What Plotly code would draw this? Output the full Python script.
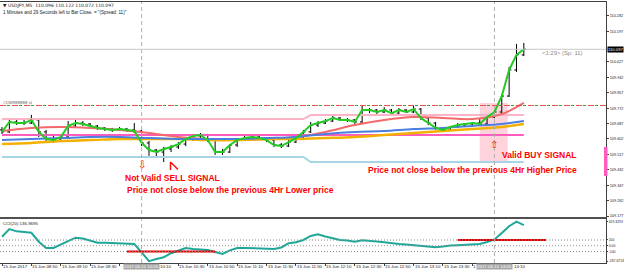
import plotly.graph_objects as go

W, H = 625, 273
ML, MR, MT, MB = 0, 19, 2, 10
PW = W - ML - MR
PH = H - MT - MB
FONT = "Liberation Sans"

def px_x(x):
    return (x - ML) / PW

def px_y(y):
    return (H - MB - y) / PH

# ---------------- data ----------------
BARS = list(range(72))
OPEN = [109.652, 109.641, 109.696, 109.690, 109.690, 109.707, 109.641, 109.602, 109.596, 109.613,
        109.674, 109.690, 109.685, 109.674, 109.663, 109.657, 109.652, 109.657, 109.652, 109.646,
        109.580, 109.541, 109.530, 109.547, 109.558, 109.574, 109.602, 109.619, 109.624, 109.596,
        109.530, 109.530, 109.569, 109.596, 109.607, 109.613, 109.607, 109.596, 109.569, 109.563,
        109.585, 109.607, 109.641, 109.679, 109.690, 109.701, 109.718, 109.707, 109.707, 109.696,
        109.762, 109.762, 109.751, 109.762, 109.745, 109.762, 109.751, 109.767, 109.718, 109.690,
        109.663, 109.652, 109.668, 109.679, 109.685, 109.690, 109.685, 109.723, 109.751, 109.839,
        109.983, 110.066]
HIGH = [109.668, 109.712, 109.707, 109.712, 109.735, 109.712, 109.652, 109.619, 109.624, 109.701,
        109.712, 109.701, 109.690, 109.679, 109.668, 109.663, 109.668, 109.663, 109.690, 109.652,
        109.591, 109.547, 109.558, 109.569, 109.585, 109.613, 109.630, 109.635, 109.630, 109.602,
        109.547, 109.574, 109.602, 109.619, 109.624, 109.619, 109.613, 109.602, 109.580, 109.596,
        109.613, 109.652, 109.696, 109.701, 109.712, 109.729, 109.723, 109.718, 109.712, 109.784,
        109.773, 109.767, 109.778, 109.767, 109.773, 109.767, 109.784, 109.773, 109.723, 109.696,
        109.668, 109.674, 109.690, 109.690, 109.696, 109.712, 109.740, 109.762, 109.850, 110.000,
        110.127, 110.132]
LOW = [109.630, 109.635, 109.679, 109.679, 109.685, 109.613, 109.591, 109.580, 109.585, 109.607,
       109.668, 109.674, 109.663, 109.652, 109.646, 109.641, 109.646, 109.641, 109.635, 109.563,
       109.509, 109.503, 109.475, 109.530, 109.547, 109.563, 109.591, 109.602, 109.585, 109.514,
       109.514, 109.525, 109.558, 109.591, 109.602, 109.596, 109.585, 109.558, 109.552, 109.558,
       109.580, 109.602, 109.635, 109.668, 109.685, 109.696, 109.701, 109.696, 109.685, 109.690,
       109.745, 109.740, 109.745, 109.734, 109.740, 109.745, 109.745, 109.707, 109.679, 109.652,
       109.641, 109.646, 109.663, 109.674, 109.679, 109.679, 109.679, 109.718, 109.745, 109.834,
       109.972, 110.060]
CLOSE = [109.641, 109.696, 109.690, 109.690, 109.707, 109.641, 109.602, 109.596, 109.613, 109.674,
         109.690, 109.685, 109.674, 109.663, 109.657, 109.652, 109.657, 109.652, 109.646, 109.580,
         109.541, 109.530, 109.547, 109.558, 109.574, 109.602, 109.619, 109.624, 109.596, 109.530,
         109.530, 109.569, 109.596, 109.607, 109.613, 109.607, 109.596, 109.569, 109.563, 109.585,
         109.607, 109.641, 109.679, 109.690, 109.701, 109.718, 109.707, 109.707, 109.696, 109.762,
         109.762, 109.751, 109.762, 109.745, 109.762, 109.751, 109.767, 109.718, 109.690, 109.663,
         109.652, 109.668, 109.679, 109.685, 109.690, 109.685, 109.723, 109.751, 109.839, 109.983,
         110.066, 110.097]

MA_IDX = [0, 4, 8, 12, 16, 20, 24, 28, 32, 36, 40, 44, 48, 52, 56, 60, 64, 68, 71]
MA_RED = [109.646, 109.663, 109.668, 109.663, 109.652, 109.635, 109.613, 109.602, 109.596, 109.602,
          109.613, 109.641, 109.679, 109.707, 109.723, 109.718, 109.712, 109.740, 109.801]
MA_BLUE = [109.596, 109.602, 109.607, 109.613, 109.613, 109.607, 109.602, 109.602, 109.602, 109.607,
           109.613, 109.630, 109.641, 109.646, 109.657, 109.663, 109.674, 109.685, 109.701]
MA_GOLD = [109.574, 109.580, 109.591, 109.596, 109.602, 109.602, 109.602, 109.596, 109.596, 109.602,
           109.602, 109.607, 109.613, 109.624, 109.635, 109.646, 109.657, 109.668, 109.685]

H4_X = [0, 41, 42, 71]
H4_HIGH = [109.712, 109.712, 109.734, 109.734]
H4_LOW = [109.503, 109.503, 109.475, 109.475]
MAG_X = [0, 71]
MAG_LEVEL = [109.624, 109.624]
ORDER_LEVEL = 109.787
BID = 110.097

BOX_BARS = [65, 68.8]
BOX_PRICES = [109.475, 109.801]
CROSS_BARS = [19, 67]

CCI = [157, 290, 250, 235, 225, 70, -39, -39, 20, 75,
       140, 125, 85, 52, 50, 47, 40, 35, 30, -115,
       -267.67, -230, -200, -130, -90, -40, -57, -65, -74, -110,
       -143, -80, -40, -38, -39, -40, -45, -55, -30, 45,
       60, 100, 170, 200, 160, 125, 100, 90, 70, 95,
       90, 75, 60, 40, 30, 20, 10, -5, -20, -25,
       -15, 5, 10, 15, 15, 30, 65, 110, 220, 340,
       419.33, 360]
CCI_LEVELS = [100, 0, -100]
CCI_SEG1_BARS = [17, 29]
CCI_SEG1_LEVEL = -100
CCI_SEG2_BARS = [62, 74]
CCI_SEG2_LEVEL = 100

PRICE_TICKS = [109.177, 109.262, 109.347, 109.432, 109.517, 109.602, 109.687, 109.772,
               109.857, 109.942, 110.027, 110.197, 110.282]
CCI_TICKS = [419.3293, 100, 0, -100, -267.6713]
CCI_TICK_TEXT = ["419.3293", "100", "0.00", "-100", "-267.6713"]

TIME_BARS = [0, 4, 8, 12, 16, 20, 24, 28, 32, 36, 40, 44, 48, 52, 56, 60, 64, 68]
# labels as they show (the ones under the crosshair date boxes are partly hidden)
TIME_LABELS = ["15 Jun 2017", "15 Jun 08:50", "15 Jun 09:10", "15 Jun 09:30", "",
               "10:10", "15 Jun 10:30", "15 Jun 10:50", "15 Jun 11:10", "15 Jun 11:30",
               "15 Jun 11:50", "15 Jun 12:10", "15 Jun 12:30", "15 Jun 12:50", "15 Jun 13:10",
               "15 Jun 13:30", "1", "14:10"]
TIME_SHIFT = [0, 0, 0, 0, 0, 10, 0, 0, 0, 0, 0, 0, 0, 0, 0, 0, 0, 11]
CROSS_LABELS = ["2017.06.15 10:05", "2017.06.15 14:05"]

X_RANGE = [-0.272, 82.18]
Y_RANGE = [109.1715, 110.358]
CCI_RANGE = [-300, 465]

# ---------------- figure ----------------
fig = go.Figure()

def line(x, y, color, width, xa="x", ya="y", shape="linear", dash=None):
    fig.add_trace(go.Scatter(x=x, y=y, mode="lines", xaxis=xa, yaxis=ya,
                             line=dict(color=color, width=width, shape=shape, dash=dash),
                             showlegend=False, hoverinfo="skip"))

line(H4_X, H4_HIGH, "#ffb3c6", 2)
line(H4_X, H4_LOW, "#a6d5e6", 2)
line(MAG_X, MAG_LEVEL, "#ff5cc0", 2)
line(MA_IDX, MA_RED, "#f26a6a", 2, shape="spline")
line(MA_IDX, MA_GOLD, "#f2b000", 2.5, shape="spline")
line(MA_IDX, MA_BLUE, "#4a7fe0", 2, shape="spline")
line(BARS, CLOSE, "#22cc22", 2)

fig.add_trace(go.Ohlc(x=BARS, open=OPEN, high=HIGH, low=LOW, close=CLOSE,
                      increasing=dict(line=dict(color="black", width=1)),
                      decreasing=dict(line=dict(color="black", width=1)),
                      tickwidth=0.3, showlegend=False, hoverinfo="skip",
                      xaxis="x", yaxis="y"))

line(BARS, CCI, "#1fa899", 2, xa="x2", ya="y2")
line(CCI_SEG1_BARS, [CCI_SEG1_LEVEL] * 2, "#e00000", 2, xa="x2", ya="y2")
line(CCI_SEG2_BARS, [CCI_SEG2_LEVEL] * 2, "#e00000", 2, xa="x2", ya="y2")

shapes = []
shapes.append(dict(type="rect", xref="x", yref="y", x0=BOX_BARS[0], x1=BOX_BARS[1],
                   y0=BOX_PRICES[0], y1=BOX_PRICES[1], fillcolor="#ffd3dc",
                   line=dict(width=0), layer="below"))
for b in CROSS_BARS:
    shapes.append(dict(type="line", xref="x", yref="paper", x0=b, x1=b, y0=0, y1=1,
                       line=dict(color="#b0b0b0", width=1, dash="4px,3px")))
shapes.append(dict(type="line", xref="paper", yref="y", x0=0, x1=1, y0=BID, y1=BID,
                   line=dict(color="#c8c8c8", width=1)))
shapes.append(dict(type="line", xref="paper", yref="y", x0=0, x1=1, y0=ORDER_LEVEL, y1=ORDER_LEVEL,
                   line=dict(color="#e05050", width=1, dash="6px,6px")))
shapes.append(dict(type="line", xref="paper", yref="y", x0=0, x1=1, y0=ORDER_LEVEL, y1=ORDER_LEVEL,
                   line=dict(color="#3a9a3a", width=1, dash="0px,7px,3px,2px")))
for lv in CCI_LEVELS:
    shapes.append(dict(type="line", xref="paper", yref="y2", x0=0, x1=1, y0=lv, y1=lv,
                       line=dict(color="#8c8c8c", width=1, dash="1px,2px")))
# pane separator
shapes.append(dict(type="line", xref="paper", yref="paper", x0=0, x1=1,
                   y0=px_y(218), y1=px_y(218), line=dict(color="#505050", width=2)))
# pink marker on price scale
shapes.append(dict(type="rect", xref="paper", yref="paper", x0=px_x(604), x1=px_x(607.5),
                   y0=px_y(176), y1=px_y(147), fillcolor="#ff5cc0", line=dict(width=0)))
# red drawn mark
shapes.append(dict(type="path", xref="paper", yref="paper",
                   path="M %f,%f L %f,%f M %f,%f L %f,%f" % (
                       px_x(170.5), px_y(170), px_x(170.5), px_y(162),
                       px_x(170.5), px_y(162), px_x(178), px_y(169.5)),
                   line=dict(color="#ff1010", width=1.5)))

anns = []

def ann(text, x, y, size, color, xanchor="left", bg=None, xref="paper", yref="paper",
        family=FONT, xshift=0):
    d = dict(text=text, x=x, y=y, xref=xref, yref=yref, xanchor=xanchor, yanchor="middle",
             showarrow=False, font=dict(family=family, size=size, color=color), borderpad=0,
             xshift=xshift)
    if bg:
        d["bgcolor"] = bg
    anns.append(d)

ann("▼ USDJPY,M5  110.096 110.122 110.072 110.097", px_x(2), px_y(5.5), 4.5, "#222222", family="DejaVu Sans")
ann('1 Minutes and 29 Seconds left to Bar Close. = "(Spread: 11)"', px_x(2), px_y(12.5), 4.6, "#222222")
ann("&lt;1:29&gt; (Sp: 11)", px_x(541), px_y(53), 5.9, "#8a8a8a")
ann("#158988988 sl", px_x(2), px_y(102.5), 4.4, "#606060")
ann("CCI(20) 136.9695", px_x(2), px_y(223.5), 4.4, "#222222")

RED = "#ff0000"
ann("<b>Not Valid SELL SIGNAL</b>", px_x(124), px_y(178.5), 8.5, RED)
ann("<b>Price not close below the previous 4Hr Lower price</b>", px_x(126), px_y(189.5), 8.5, RED)
ann("<b>Valid BUY SIGNAL</b>", px_x(501), px_y(155), 8.5, RED)
ann("<b>Price not close below the previous 4Hr Higher Price</b>", px_x(367), px_y(169.5), 8.5, RED)

ann("⇩", CROSS_BARS[0], 109.464, 10, RED, xanchor="center", xref="x", yref="y", family="DejaVu Sans")
ann("⇧", CROSS_BARS[1], 109.574, 10, RED, xanchor="center", xref="x", yref="y", family="DejaVu Sans")

ann("110.097", 1.0, BID, 4.2, "white", bg="black", yref="y", xshift=1)

for b, t, s in zip(TIME_BARS, TIME_LABELS, TIME_SHIFT):
    if t:
        ann(t, b, px_y(266.5), 4.4, "#222222", xref="x2", xshift=s)
for b, t in zip(CROSS_BARS, CROSS_LABELS):
    ann(t, b, px_y(266.5), 4.4, "white", xanchor="center", bg="#a6a6a6", xref="x2")

axis_common = dict(showgrid=False, zeroline=False, showline=True, mirror=True,
                   linecolor="#404040", linewidth=1, automargin=False)

fig.update_layout(
    width=W, height=H,
    margin=dict(l=ML, r=MR, t=MT, b=MB, autoexpand=False),
    paper_bgcolor="white", plot_bgcolor="white",
    showlegend=False,
    shapes=shapes, annotations=anns,
    xaxis=dict(domain=[0, 1], range=X_RANGE, anchor="y", showticklabels=False,
               rangeslider=dict(visible=False), **axis_common),
    xaxis2=dict(domain=[0, 1], range=X_RANGE, anchor="y2", showticklabels=False,
                ticks="outside", ticklen=2, tickcolor="#404040", tickvals=TIME_BARS,
                **axis_common),
    yaxis=dict(domain=[px_y(217), 1], range=Y_RANGE, side="right", anchor="x",
               tickvals=PRICE_TICKS, ticktext=["%.3f" % v for v in PRICE_TICKS],
               ticks="outside", ticklen=2, tickcolor="#404040", ticklabelstandoff=0,
               tickfont=dict(family=FONT, size=3.8, color="#222222"), **axis_common),
    yaxis2=dict(domain=[0, px_y(219)], range=CCI_RANGE, side="right", anchor="x2",
                tickvals=CCI_TICKS, ticktext=CCI_TICK_TEXT,
                ticks="outside", ticklen=1, tickcolor="#404040", ticklabelstandoff=0,
                tickfont=dict(family=FONT, size=3.4, color="#222222"), **axis_common),
)

fig.write_html("out.html")
